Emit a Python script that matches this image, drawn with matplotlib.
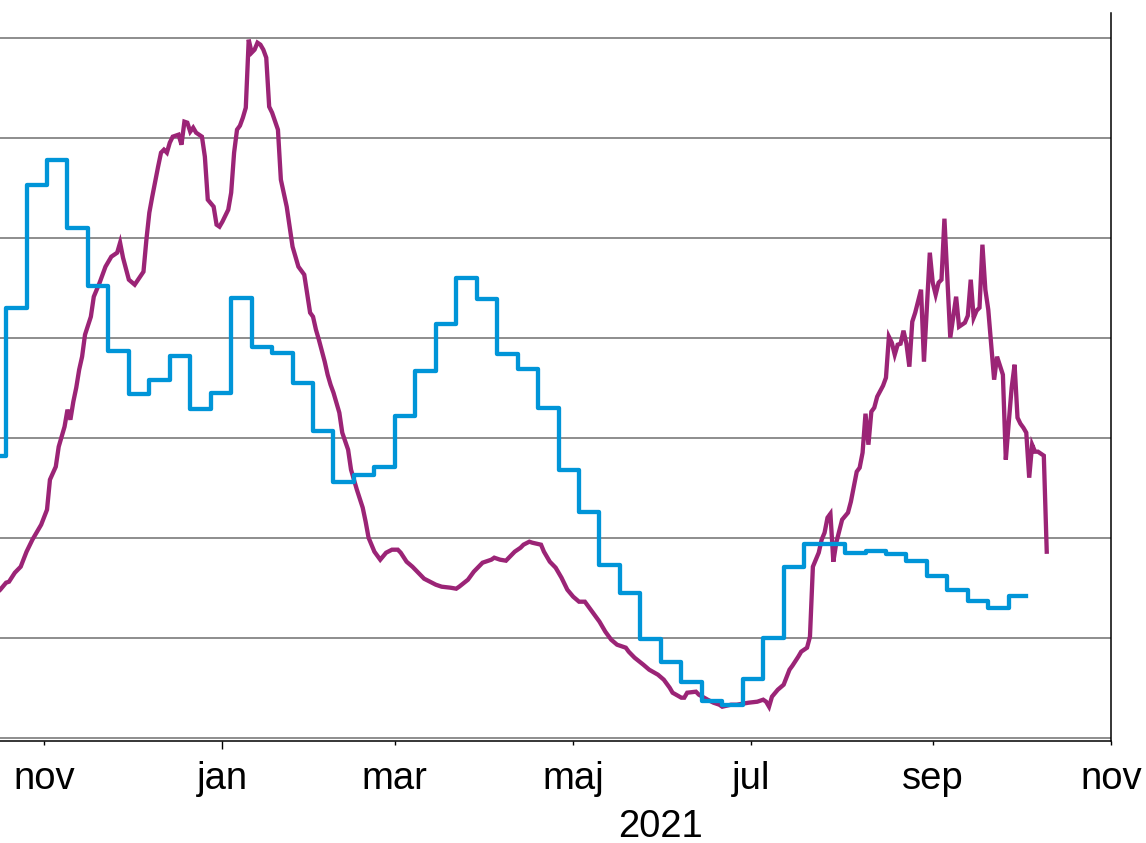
import numpy as np
import pandas as pd
import matplotlib
matplotlib.use('Agg')
import matplotlib.pyplot as plt
import matplotlib.dates as mdates
import matplotlib.transforms as mtransforms
from matplotlib.ticker import FuncFormatter

plt.rcParams['font.family'] = ['Liberation Sans', 'DejaVu Sans']

# ---------------- data ----------------
# Blue series: weekly values (weeks start on Mondays)
blue_start = '2020-10-12'
blue_end = '2021-10-03'
blue_weekly = [2.82, 4.30, 5.53, 5.78, 5.10, 4.52, 3.87, 3.44, 3.58, 3.82,
               3.29, 3.45, 4.40, 3.91, 3.85, 3.55, 3.07, 2.56, 2.63, 2.71,
               3.22, 3.67, 4.14, 4.60, 4.39, 3.84, 3.69, 3.30, 2.68, 2.26,
               1.73, 1.45, 0.99, 0.76, 0.56, 0.37, 0.33, 0.59, 1.00, 1.71,
               1.94, 1.94, 1.85, 1.87, 1.84, 1.77, 1.62, 1.48, 1.37, 1.30,
               1.42]

# Purple series: daily observations (days counted from purple_origin)
purple_origin = '2020-11-01'
purple_day = [-18, -15, -13, -12, -10, -8, -6, -4, -1, 1, 2, 4, 5, 7, 8, 9, 10,
              11, 12, 13, 14, 16, 17, 19, 21, 23, 25, 26, 27, 29, 31, 34, 35,
              36, 37, 39, 40, 41, 42, 43, 44, 46, 47, 48, 49, 50, 51, 52, 54,
              55, 56, 58, 59, 60, 61, 63, 64, 65, 66, 67, 68, 69, 70, 71, 72,
              73, 74, 75, 76, 77, 78, 80, 81, 83, 85, 87, 89, 91, 92, 93, 94,
              96, 97, 98, 99, 100, 101, 102, 104, 105, 107, 109, 110, 111, 113,
              115, 117, 119, 121, 122, 124, 126, 128, 130, 132, 134, 136, 139,
              141, 142, 145, 147, 150, 153, 154, 156, 158, 159, 161, 163, 164,
              166, 167, 170, 171, 173, 175, 177, 179, 181, 183, 185, 187, 190,
              192, 194, 196, 199, 200, 202, 205, 207, 210, 212, 214, 215, 218,
              219, 220, 223, 224, 227, 229, 231, 232, 235, 237, 239, 241, 244,
              246, 247, 248, 249, 251, 253, 255, 256, 258, 259, 261, 262, 263,
              264, 265, 266, 267, 268, 269, 270, 271, 273, 275, 276, 277, 278,
              279, 280, 281, 282, 283, 284, 285, 287, 288, 289, 290, 291, 292,
              293, 294, 295, 296, 297, 298, 300, 301, 303, 304, 305, 306, 307,
              308, 310, 312, 313, 315, 316, 317, 318, 319, 320, 321, 322, 323,
              325, 326, 327, 328, 329, 330, 331, 332, 333, 334, 335, 336, 337,
              338, 339, 340, 341, 342, 343]
purple_value = [1.40, 1.48, 1.55, 1.56, 1.65, 1.71, 1.86, 1.98, 2.13, 2.28, 2.58,
                2.71, 2.91, 3.11, 3.28, 3.18, 3.36, 3.50, 3.68, 3.81, 4.03, 4.21,
                4.41, 4.55, 4.71, 4.81, 4.85, 4.95, 4.80, 4.58, 4.53, 4.66, 4.98,
                5.25, 5.41, 5.71, 5.85, 5.88, 5.85, 5.95, 6.01, 6.03, 5.93, 6.16,
                6.15, 6.06, 6.10, 6.05, 6.01, 5.81, 5.38, 5.31, 5.13, 5.11, 5.16,
                5.28, 5.45, 5.85, 6.08, 6.12, 6.20, 6.30, 6.98, 6.85, 6.88, 6.95,
                6.93, 6.88, 6.80, 6.31, 6.25, 6.08, 5.58, 5.31, 4.91, 4.71, 4.63,
                4.25, 4.21, 4.08, 3.98, 3.76, 3.63, 3.53, 3.45, 3.35, 3.25, 3.05,
                2.88, 2.68, 2.48, 2.30, 2.16, 2.00, 1.86, 1.78, 1.85, 1.88, 1.88,
                1.85, 1.76, 1.71, 1.65, 1.59, 1.56, 1.53, 1.51, 1.50, 1.49, 1.51,
                1.58, 1.66, 1.75, 1.78, 1.80, 1.78, 1.77, 1.80, 1.86, 1.90, 1.93,
                1.96, 1.95, 1.93, 1.86, 1.76, 1.70, 1.60, 1.48, 1.41, 1.36, 1.36,
                1.28, 1.16, 1.06, 0.98, 0.93, 0.90, 0.86, 0.80, 0.73, 0.68, 0.63,
                0.58, 0.50, 0.45, 0.40, 0.40, 0.45, 0.46, 0.43, 0.38, 0.35, 0.33,
                0.31, 0.33, 0.33, 0.34, 0.35, 0.36, 0.38, 0.36, 0.31, 0.41, 0.48,
                0.53, 0.68, 0.72, 0.81, 0.86, 0.90, 1.01, 1.71, 1.78, 1.85, 1.98,
                2.05, 2.20, 2.24, 1.76, 1.95, 2.18, 2.25, 2.36, 2.51, 2.66, 2.70,
                2.85, 3.24, 2.93, 3.26, 3.30, 3.41, 3.52, 3.60, 4.01, 3.95, 3.83,
                3.93, 3.94, 4.07, 3.94, 3.71, 4.16, 4.25, 4.48, 3.76, 4.85, 4.55,
                4.43, 4.55, 4.58, 5.19, 4.00, 4.41, 4.11, 4.15, 4.22, 4.58, 4.20,
                4.27, 4.30, 4.93, 4.48, 4.28, 3.58, 3.81, 3.72, 3.63, 2.78, 3.15,
                3.50, 3.73, 3.20, 3.14, 3.10, 3.05, 2.60, 2.93, 2.86, 2.86, 2.84,
                2.82, 1.86]

month_names = ['jan', 'feb', 'mar', 'apr', 'maj', 'jun',
               'jul', 'aug', 'sep', 'okt', 'nov', 'dec']
year_label = '2021'
year_label_date = '2021-05-31'
x_start = '2020-10-01'
x_end = '2021-11-01'
grid_levels = [0, 1, 2, 3, 4, 5, 6, 7]

# ---------------- styling ----------------
blue_color = '#0095d8'
purple_color = '#9b2476'

fig = plt.figure(figsize=(11.46, 8.43), dpi=100)
# axes extends past the left edge of the figure (cropped view)
ax = fig.add_axes([-0.0406, 0.121, 1.0101, 0.8636])

purple_dates = pd.Timestamp(purple_origin) + pd.to_timedelta(purple_day, unit='D')
ax.plot(purple_dates, purple_value, color=purple_color, lw=3.1,
        solid_joinstyle='miter', zorder=3)

week_dates = list(pd.date_range(blue_start, periods=len(blue_weekly), freq='7D'))
blue_x = week_dates + [pd.Timestamp(blue_end)]
blue_y = blue_weekly + [blue_weekly[-1]]
ax.plot(blue_x, blue_y, color=blue_color, lw=3.1, drawstyle='steps-post',
        solid_joinstyle='round', zorder=4)

ax.set_xlim(pd.Timestamp(x_start), pd.Timestamp(x_end))
ax.set_ylim(-0.033, 7.247)

ax.set_yticks(grid_levels)
ax.yaxis.grid(True, color='#858585', lw=1.3, zorder=1)
ax.set_axisbelow(True)
ax.tick_params(axis='y', length=0, labelleft=False, labelright=False)

fmt = FuncFormatter(lambda v, pos: month_names[mdates.num2date(v).month - 1])
ax.xaxis.set_major_locator(mdates.MonthLocator(bymonth=[1]))
ax.xaxis.set_minor_locator(mdates.MonthLocator(bymonth=[3, 5, 7, 9, 11]))
ax.xaxis.set_major_formatter(fmt)
ax.xaxis.set_minor_formatter(fmt)
ax.tick_params(axis='x', which='major', length=5.8, width=1.0, pad=8.6,
               labelsize=27.5, color='black')
ax.tick_params(axis='x', which='minor', length=3.0, width=1.0, pad=11.4,
               labelsize=27.5, color='black')

for side in ['top', 'left']:
    ax.spines[side].set_visible(False)
for side in ['right', 'bottom']:
    ax.spines[side].set_color('black')
    ax.spines[side].set_linewidth(1.1)

trans = mtransforms.blended_transform_factory(ax.transData, ax.transAxes)
ax.text(pd.Timestamp(year_label_date), -0.1319, year_label, transform=trans,
        ha='center', va='baseline', fontsize=27.5, color='black')

fig.savefig('out.png', dpi=100)
